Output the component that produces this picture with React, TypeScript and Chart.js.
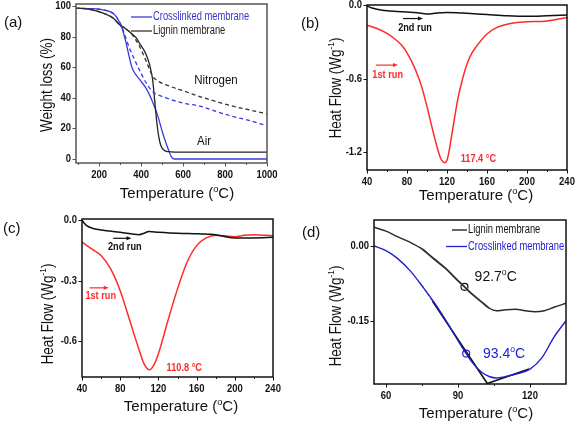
import React, { useEffect, useRef } from "react";
import { Chart, registerables } from "chart.js";
Chart.register(...registerables);

const SANS = "'Liberation Sans', Arial, sans-serif";
const RED = "#ff2a2a";
const GREY = "#8a8a8a";
const NARROW_SX = 0.8;

// ---------- (a) TGA ----------
const A_X_TICKS = [200, 400, 600, 800, 1000];
const A_Y_TICKS = [0, 20, 40, 60, 80, 100];
const A_LIGNIN_AIR_T = [90, 150, 205, 268, 299, 323, 346, 378, 393, 410, 425, 440, 448, 455, 465, 475, 485, 495, 510, 530, 560, 700, 850, 1000];
const A_LIGNIN_AIR_W = [98.5, 98, 96, 92, 87.6, 85.5, 83, 79, 75.6, 72, 68, 62, 57, 52, 38, 24, 14, 8.5, 5.8, 4.8, 4.5, 4.5, 4.5, 4.5];
const A_LIGNIN_N2_T = [90, 150, 205, 268, 299, 323, 346, 362, 393, 425, 456, 480, 519, 613, 676, 760, 833, 920, 1000];
const A_LIGNIN_N2_W = [98.5, 98, 96, 92, 87.6, 85.5, 83, 80.5, 73.5, 63.7, 54, 51, 48.5, 44, 41, 37.5, 34.7, 32, 29.5];
const A_CROSS_AIR_T = [90, 150, 205, 252, 276, 291, 302, 315, 330, 345, 354, 362, 393, 425, 456, 480, 503, 520, 527, 543, 558, 600, 800, 1000];
const A_CROSS_AIR_W = [98.5, 98.3, 97.8, 96.3, 94, 91, 88, 83, 75, 66, 61, 58, 52, 46, 37, 28, 17, 10, 7.4, 1.7, 0, 0, 0, 0];
const A_CROSS_N2_T = [90, 150, 205, 252, 276, 291, 303, 315, 330, 346, 362, 393, 425, 456, 519, 600, 676, 760, 833, 920, 1000];
const A_CROSS_N2_W = [98.5, 98.3, 97.8, 96.3, 94, 91, 88, 84, 78, 72, 67, 58, 49.6, 44, 40, 36.5, 34.7, 31, 28, 25, 21.7];

// ---------- (b) DSC lignin membrane ----------
const B_X_TICKS = [40, 80, 120, 160, 200, 240];
const B_Y_TICKS = [0.0, -0.6, -1.2];
const B_RUN1_T = [40, 50, 60, 70, 76, 80, 87, 94, 100, 105, 110, 114, 117.4, 120, 122, 125, 128, 131, 135, 140, 145, 150, 160, 170, 180, 190, 200, 220, 240];
const B_RUN1_HF = [-0.162, -0.19, -0.23, -0.29, -0.34, -0.39, -0.5, -0.65, -0.83, -1.0, -1.16, -1.26, -1.29, -1.27, -1.2, -1.05, -0.9, -0.76, -0.62, -0.48, -0.39, -0.33, -0.235, -0.18, -0.155, -0.14, -0.135, -0.128, -0.1];
const B_RUN2_T = [40, 42, 45, 50, 60, 70, 80, 90, 100, 105, 110, 120, 130, 140, 160, 180, 200, 220, 240];
const B_RUN2_HF = [0.0, -0.012, -0.022, -0.032, -0.045, -0.05, -0.055, -0.06, -0.07, -0.068, -0.062, -0.058, -0.06, -0.065, -0.075, -0.085, -0.09, -0.085, -0.078];

// ---------- (c) DSC crosslinked membrane ----------
const C_X_TICKS = [40, 80, 120, 160, 200, 240];
const C_Y_TICKS = [0.0, -0.3, -0.6];
const C_RUN1_T = [40, 50, 60, 70, 80, 90, 100, 105, 110.8, 115, 120, 130, 140, 150, 160, 170, 180, 190, 200, 210, 220, 240];
const C_RUN1_HF = [-0.111, -0.144, -0.177, -0.243, -0.35, -0.497, -0.644, -0.71, -0.739, -0.718, -0.66, -0.497, -0.341, -0.21, -0.128, -0.09, -0.077, -0.08, -0.084, -0.077, -0.074, -0.08];
const C_RUN2_T = [40, 42, 45, 50, 60, 80, 100, 105, 110, 120, 140, 160, 180, 190, 200, 220, 240];
const C_RUN2_HF = [-0.003, -0.015, -0.03, -0.041, -0.051, -0.062, -0.074, -0.067, -0.059, -0.062, -0.067, -0.07, -0.074, -0.084, -0.09, -0.09, -0.087];

// ---------- (d) Tg comparison ----------
const D_X_TICKS = [60, 90, 120];
const D_Y_TICKS = [0.0, -0.15];
const D_LIGNIN_T = [55, 60, 65, 70, 75, 80, 85, 90, 92.7, 95, 100, 103, 106, 110, 114, 118, 122, 126, 130, 135];
const D_LIGNIN_HF = [0.0375, 0.0295, 0.018, 0.0074, -0.006, -0.026, -0.046, -0.07, -0.082, -0.093, -0.113, -0.125, -0.13, -0.128, -0.127, -0.13, -0.132, -0.13, -0.123, -0.115];
const D_CROSS_T = [55, 60, 65, 70, 75, 80, 85, 90, 93.4, 96, 100, 103, 106, 110, 115, 120, 125, 130, 135];
const D_CROSS_HF = [0.0, -0.0094, -0.026, -0.0496, -0.08, -0.113, -0.15, -0.19, -0.216, -0.234, -0.254, -0.262, -0.265, -0.262, -0.256, -0.247, -0.224, -0.183, -0.15];
const D_TANGENT_T = [79.4, 102.2, 119.6];
const D_TANGENT_HF = [-0.111, -0.276, -0.247];
const D_TANGENT_EXT_T = [75, 81];
const D_TANGENT_EXT_HF = [-0.079, -0.1226];
const D_LIGNIN_TG = [92.7];
const D_LIGNIN_TG_HF = [-0.082];
const D_CROSS_TG = [93.4];
const D_CROSS_TG_HF = [-0.216];

const zip = (xs: number[], ys: number[]) => xs.map((x, i) => ({ x, y: ys[i] }));

type Seg = { t: string; sup?: boolean };
type TextOpts = { rotate?: boolean; weight?: string; align?: "left" | "center" | "right"; sx?: number; baseline?: CanvasTextBaseline };
function drawRich(
  ctx: CanvasRenderingContext2D, segs: Seg[], x: number, y: number, size: number,
  color: string, opts: TextOpts = {}
) {
  const weight = opts.weight || "normal";
  const supSize = size * 0.62;
  ctx.save();
  ctx.translate(x, y);
  if (opts.rotate) ctx.rotate(-Math.PI / 2);
  ctx.scale(opts.sx || 1, 1);
  let total = 0;
  const widths: number[] = [];
  for (const s of segs) {
    ctx.font = `${weight} ${s.sup ? supSize : size}px ${SANS}`;
    const w = ctx.measureText(s.t).width;
    widths.push(w);
    total += w;
  }
  let cx = opts.align === "left" ? 0 : opts.align === "right" ? -total : -total / 2;
  ctx.textBaseline = opts.baseline || "middle";
  ctx.textAlign = "left";
  ctx.fillStyle = color;
  segs.forEach((s, i) => {
    ctx.font = `${weight} ${s.sup ? supSize : size}px ${SANS}`;
    ctx.fillText(s.t, cx, s.sup ? -size * 0.33 : 0);
    cx += widths[i];
  });
  ctx.restore();
}

type Note = { x: number; y: number; segs: Seg[]; color: string; size: number; sx?: number; weight?: string; align?: "left" | "center" };
type Arrow = { x1: number; x2: number; y: number; color: string };
type Legend = { x1: number; x2: number; y: number; color: string; text: string; textColor: string };

type Panel = {
  key: string;
  left: number; top: number;
  yWidth: number; xHeight: number; padRight: number; padTop: number;
  xMin: number; xMax: number; yMin: number; yMax: number;
  xTicks: number[]; yTicks: number[]; xMinor: number[]; yDigits: number;
  frameColor: string;
  datasets: any[];
  label: string; labelPos: [number, number];
  xTitlePos: [number, number]; yTitlePos: [number, number]; yTitle: Seg[]; yTitleSize: number;
  notes: Note[]; arrows: Arrow[]; legend: Legend[];
};

const TEMP_TITLE: Seg[] = [{ t: "Temperature (" }, { t: "o", sup: true }, { t: "C)" }];
const HF_TITLE: Seg[] = [{ t: "Heat Flow (Wg" }, { t: "-1", sup: true }, { t: ")" }];

const line = (data: any[], color: string, width: number, dash: number[] = []) => ({
  data, borderColor: color, borderWidth: width, borderDash: dash, pointRadius: 0, fill: false,
  cubicInterpolationMode: "monotone",
});

const mids = (t: number[]) => t.slice(0, -1).map((v, i) => (v + t[i + 1]) / 2);

const PANELS: Panel[] = [
  {
    key: "a", left: 0, top: 0, yWidth: 76, xHeight: 51, padRight: 22, padTop: 4,
    xMin: 90, xMax: 1000, yMin: -2.6, yMax: 101.3,
    xTicks: A_X_TICKS, yTicks: A_Y_TICKS, xMinor: [100, 300, 500, 700, 900], yDigits: 0,
    frameColor: "#555",
    datasets: [
      line(zip(A_LIGNIN_N2_T, A_LIGNIN_N2_W), "#333", 1.3, [4, 3]),
      line(zip(A_CROSS_N2_T, A_CROSS_N2_W), "#3a3ae0", 1.3, [4, 3]),
      line(zip(A_LIGNIN_AIR_T, A_LIGNIN_AIR_W), "#222", 1.3),
      line(zip(A_CROSS_AIR_T, A_CROSS_AIR_W), "#3a3ae0", 1.3),
    ],
    label: "(a)", labelPos: [4, 23],
    xTitlePos: [177, 194], yTitlePos: [48, 85],
    yTitle: [{ t: "Weight loss (%)" }], yTitleSize: 16,
    notes: [
      { x: 757, y: 51, segs: [{ t: "Nitrogen" }], color: "#111", size: 12.5, sx: 0.92 },
      { x: 700, y: 11.5, segs: [{ t: "Air" }], color: "#111", size: 12.5, sx: 0.92 },
    ],
    arrows: [],
    legend: [
      { x1: 131, x2: 152, y: 17, color: "#3a3ae0", text: "Crosslinked membrane", textColor: "#3535c8" },
      { x1: 131, x2: 152, y: 31, color: "#333", text: "Lignin membrane", textColor: "#222" },
    ],
  },
  {
    key: "b", left: 289, top: 0, yWidth: 78, xHeight: 44, padRight: 11, padTop: 5,
    xMin: 40, xMax: 240, yMin: -1.35, yMax: 0.003,
    xTicks: B_X_TICKS, yTicks: B_Y_TICKS, xMinor: mids(B_X_TICKS), yDigits: 1,
    frameColor: "#111",
    datasets: [
      line(zip(B_RUN2_T, B_RUN2_HF), "#111", 1.5),
      line(zip(B_RUN1_T, B_RUN1_HF), RED, 1.5),
    ],
    label: "(b)", labelPos: [12, 24],
    xTitlePos: [187, 196], yTitlePos: [48, 88],
    yTitle: HF_TITLE, yTitleSize: 16,
    notes: [
      { x: 133.7, y: -1.262, segs: [{ t: "117.4 °C" }], color: RED, size: 11.5, sx: 0.8, weight: "bold", align: "left" },
      { x: 88, y: -0.184, segs: [{ t: "2nd run" }], color: "#111", size: 11.5, sx: 0.8, weight: "bold" },
      { x: 60.7, y: -0.568, segs: [{ t: "1st run" }], color: RED, size: 11.5, sx: 0.8, weight: "bold" },
    ],
    arrows: [
      { x1: 76, x2: 96, y: -0.108, color: "#111" },
      { x1: 49, x2: 71, y: -0.49, color: RED },
    ],
    legend: [],
  },
  {
    key: "c", left: 0, top: 214, yWidth: 82, xHeight: 51, padRight: 16, padTop: 5,
    xMin: 40, xMax: 240, yMin: -0.775, yMax: 0.003,
    xTicks: C_X_TICKS, yTicks: C_Y_TICKS, xMinor: mids(C_X_TICKS), yDigits: 1,
    frameColor: "#111",
    datasets: [
      line(zip(C_RUN2_T, C_RUN2_HF), "#111", 1.5),
      line(zip(C_RUN1_T, C_RUN1_HF), RED, 1.5),
    ],
    label: "(c)", labelPos: [3, 15],
    xTitlePos: [181, 193], yTitlePos: [49, 100],
    yTitle: HF_TITLE, yTitleSize: 16,
    notes: [
      { x: 128.6, y: -0.729, segs: [{ t: "110.8 °C" }], color: RED, size: 11.5, sx: 0.8, weight: "bold", align: "left" },
      { x: 84.8, y: -0.133, segs: [{ t: "2nd run" }], color: "#111", size: 11.5, sx: 0.8, weight: "bold" },
      { x: 59.6, y: -0.374, segs: [{ t: "1st run" }], color: RED, size: 11.5, sx: 0.8, weight: "bold" },
    ],
    arrows: [
      { x1: 72.6, x2: 91.8, y: -0.092, color: "#111" },
      { x1: 48, x2: 68, y: -0.336, color: RED },
    ],
    legend: [],
  },
  {
    key: "d", left: 289, top: 214, yWidth: 85, xHeight: 44, padRight: 12, padTop: 6,
    xMin: 55, xMax: 135, yMin: -0.277, yMax: 0.052,
    xTicks: D_X_TICKS, yTicks: D_Y_TICKS, xMinor: [75, 105], yDigits: 2,
    frameColor: "#111",
    datasets: [
      line(zip(D_LIGNIN_T, D_LIGNIN_HF), "#2a2a2a", 1.4),
      line(zip(D_LIGNIN_T.slice(4, 12), D_LIGNIN_HF.slice(4, 12)), GREY, 2),
      line(zip(D_CROSS_T, D_CROSS_HF), "#2020d0", 1.4),
      { ...line(zip(D_TANGENT_T, D_TANGENT_HF), "#111", 1.6), cubicInterpolationMode: "default", tension: 0 },
      { ...line(zip(D_TANGENT_EXT_T, D_TANGENT_EXT_HF), GREY, 1.2, [3, 2]), tension: 0 },
      { data: zip(D_LIGNIN_TG, D_LIGNIN_TG_HF), showLine: false, pointRadius: 3.5, pointBorderColor: "#111", pointBackgroundColor: "rgba(0,0,0,0)", pointBorderWidth: 1.2 },
      { data: zip(D_CROSS_TG, D_CROSS_TG_HF), showLine: false, pointRadius: 3.5, pointBorderColor: "#2020d0", pointBackgroundColor: "rgba(0,0,0,0)", pointBorderWidth: 1.2 },
    ],
    label: "(d)", labelPos: [13, 19],
    xTitlePos: [187, 200], yTitlePos: [48, 102],
    yTitle: HF_TITLE, yTitleSize: 16,
    notes: [
      { x: 105.7, y: -0.063, segs: [{ t: "92.7" }, { t: "o", sup: true }, { t: "C" }], color: "#111", size: 14 },
      { x: 109.2, y: -0.217, segs: [{ t: "93.4" }, { t: "o", sup: true }, { t: "C" }], color: "#2020d0", size: 14 },
    ],
    arrows: [],
    legend: [
      { x1: 163, x2: 178, y: 16, color: "#111", text: "Lignin membrane", textColor: "#111" },
      { x1: 157, x2: 178, y: 32.5, color: "#2020d0", text: "Crosslinked membrane", textColor: "#2020d0" },
    ],
  },
];

function makeConfig(p: Panel): any {
  const deco = {
    id: "deco_" + p.key,
    afterDatasetsDraw(chart: any) {
      const ctx: CanvasRenderingContext2D = chart.ctx;
      const a = chart.chartArea;
      const xs = chart.scales.x;
      const ys = chart.scales.y;
      ctx.save();
      // frame
      ctx.strokeStyle = p.frameColor;
      ctx.lineWidth = 1.5;
      ctx.strokeRect(a.left, a.top, a.right - a.left, a.bottom - a.top);
      // ticks (outward)
      ctx.lineWidth = 1;
      ctx.beginPath();
      for (const v of p.xTicks) {
        const px = Math.round(xs.getPixelForValue(v)) + 0.5;
        ctx.moveTo(px, a.bottom); ctx.lineTo(px, a.bottom + 3.5);
      }
      for (const v of p.xMinor) {
        const px = Math.round(xs.getPixelForValue(v)) + 0.5;
        ctx.moveTo(px, a.bottom); ctx.lineTo(px, a.bottom + 2);
      }
      for (const v of p.yTicks) {
        const py = Math.round(ys.getPixelForValue(v)) + 0.5;
        ctx.moveTo(a.left, py); ctx.lineTo(a.left - 3.5, py);
      }
      ctx.stroke();
      // tick labels (bold, condensed)
      for (const v of p.xTicks) {
        drawRich(ctx, [{ t: String(v) }], xs.getPixelForValue(v), a.bottom + 6, 11, "#111", { weight: "bold", sx: 0.86, baseline: "top" });
      }
      for (const v of p.yTicks) {
        const s = p.yDigits === 0 ? String(v) : v.toFixed(p.yDigits);
        drawRich(ctx, [{ t: s }], a.left - 5, ys.getPixelForValue(v), 11, "#111", { weight: "bold", sx: 0.86, align: "right" });
      }
      // arrows
      for (const ar of p.arrows) {
        const x1 = xs.getPixelForValue(ar.x1), x2 = xs.getPixelForValue(ar.x2), y = ys.getPixelForValue(ar.y);
        ctx.strokeStyle = ar.color; ctx.fillStyle = ar.color; ctx.lineWidth = 1.2;
        ctx.beginPath(); ctx.moveTo(x1, y); ctx.lineTo(x2 - 3, y); ctx.stroke();
        ctx.beginPath(); ctx.moveTo(x2, y); ctx.lineTo(x2 - 5, y - 2); ctx.lineTo(x2 - 5, y + 2); ctx.closePath(); ctx.fill();
      }
      // notes
      for (const n of p.notes) {
        drawRich(ctx, n.segs, xs.getPixelForValue(n.x), ys.getPixelForValue(n.y), n.size, n.color, { weight: n.weight, align: n.align, sx: n.sx });
      }
      // legend
      for (const l of p.legend) {
        ctx.strokeStyle = l.color; ctx.lineWidth = 1.3;
        ctx.beginPath(); ctx.moveTo(l.x1, l.y); ctx.lineTo(l.x2, l.y); ctx.stroke();
        drawRich(ctx, [{ t: l.text }], l.x2 + 1, l.y, 12, l.textColor, { align: "left", sx: 0.78 });
      }
      // titles & panel label
      drawRich(ctx, TEMP_TITLE, p.xTitlePos[0], p.xTitlePos[1], 15, "#111");
      drawRich(ctx, p.yTitle, p.yTitlePos[0], p.yTitlePos[1], p.yTitleSize, "#111", { rotate: true, sx: 0.84 });
      drawRich(ctx, [{ t: p.label }], p.labelPos[0], p.labelPos[1], 15, "#111", { align: "left" });
      ctx.restore();
    },
  };
  return {
    type: "line",
    data: { datasets: p.datasets },
    options: {
      responsive: false,
      animation: false,
      devicePixelRatio: 1,
      layout: { padding: { left: 0, right: p.padRight, top: p.padTop, bottom: 0 } },
      plugins: { legend: { display: false }, tooltip: { enabled: false }, title: { display: false } },
      elements: { line: { tension: 0.4 } },
      scales: {
        x: {
          type: "linear", min: p.xMin, max: p.xMax,
          grid: { display: false, drawTicks: false }, border: { display: false },
          afterBuildTicks: (s: any) => { s.ticks = p.xTicks.map((v) => ({ value: v })); },
          afterFit: (s: any) => { s.height = p.xHeight; },
          ticks: { display: false },
        },
        y: {
          type: "linear", min: p.yMin, max: p.yMax,
          grid: { display: false, drawTicks: false }, border: { display: false },
          afterBuildTicks: (s: any) => { s.ticks = p.yTicks.map((v) => ({ value: v })); },
          afterFit: (s: any) => { s.width = p.yWidth; },
          ticks: { display: false },
        },
      },
    },
    plugins: [deco],
  };
}

function PanelChart({ p }: { p: Panel }) {
  const ref = useRef<HTMLCanvasElement>(null);
  useEffect(() => {
    if (!ref.current) return;
    const chart = new Chart(ref.current, makeConfig(p));
    return () => chart.destroy();
  }, [p]);
  return (
    <canvas
      ref={ref}
      width={289}
      height={214}
      style={{ position: "absolute", left: p.left, top: p.top, width: 289, height: 214 }}
    />
  );
}

export default function App() {
  return (
    <div style={{ position: "fixed", left: 0, top: 0, width: 578, height: 428, background: "#fff", overflow: "hidden" }}>
      {PANELS.map((p) => (
        <PanelChart key={p.key} p={p} />
      ))}
    </div>
  );
}
